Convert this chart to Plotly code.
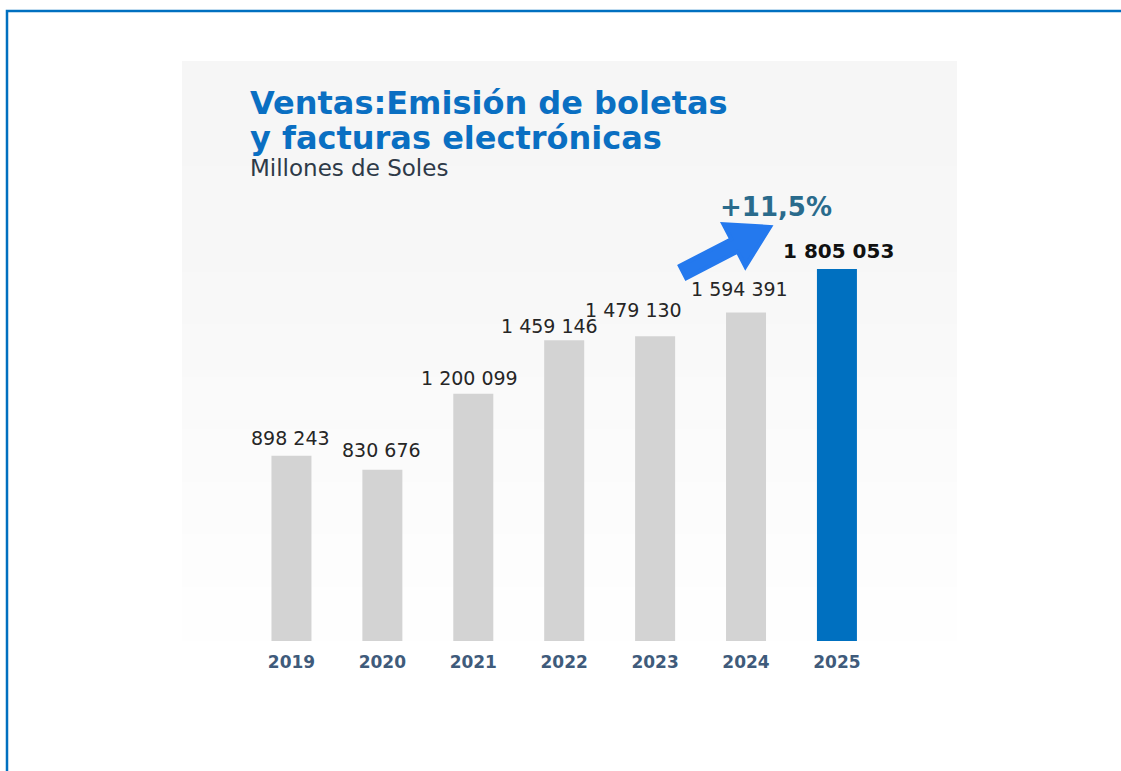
import plotly.graph_objects as go

# ---- data ----
years = ["2019", "2020", "2021", "2022", "2023", "2024", "2025"]
ventas = [898243, 830676, 1200099, 1459146, 1479130, 1594391, 1805053]
growth_label = "+11,5%"
title_line1 = "Ventas:Emisión de boletas"
title_line2 = "y facturas electrónicas"
subtitle = "Millones de Soles"

# label placement tweaks (pixels, relative to each bar top) - styling only
label_dx = [-1, -1, -4, -15, -22, -7, 2]
label_dy = [18, 20, 16, 14, 26, 23, 18]

W, H = 1121, 771


def px(x):
    return x / W


def py(y):
    return 1 - y / H


def fmt(v):
    return f"{v:,}".replace(",", " ")


bar_colors = ["#d3d3d3"] * (len(years) - 1) + ["#0070c0"]

fig = go.Figure()
fig.add_trace(go.Bar(
    x=years, y=ventas, width=0.44,
    marker=dict(color=bar_colors, line=dict(width=0)),
    hoverinfo="skip",
))

shapes = []
# background panel (faint gradient)
bands = ["#f6f6f6", "#f6f6f6", "#f7f7f7", "#f7f7f7", "#f8f8f8", "#f9f9f9",
         "#fafafa", "#fbfbfb", "#fcfcfc", "#fdfdfd", "#fefefe"]
y0, y1 = 61, 640
step = (y1 - y0) / len(bands)
for i, c in enumerate(bands):
    shapes.append(dict(type="rect", xref="paper", yref="paper", layer="below",
                       x0=px(182), x1=px(957), y0=py(y0 + step * (i + 1) + 0.5), y1=py(y0 + step * i),
                       fillcolor=c, line=dict(width=0)))

# frame lines (top and left)
shapes.append(dict(type="path", xref="paper", yref="paper",
                   path=f"M {px(7)},{py(771)} L {px(7)},{py(11)} L {px(1121)},{py(11)}",
                   line=dict(color="#0070c0", width=2.5)))

# growth arrow (decorative)
pts = [(679.8, 265.8), (731.2, 239.2), (723.4, 224.1), (770, 227),
       (745.4, 266.7), (737.6, 251.6), (686.2, 278.2)]
path = "M " + " L ".join(f"{px(x)},{py(y)}" for x, y in pts) + " Z"
shapes.append(dict(type="path", xref="paper", yref="paper", path=path,
                   fillcolor="#2479ee", line=dict(color="#2479ee", width=4)))

annotations = [
    dict(text=f"<b>{title_line1}</b>", x=px(248), y=py(103), xref="paper", yref="paper",
         xanchor="left", yanchor="middle", showarrow=False,
         font=dict(family="DejaVu Sans", size=32, color="#0a6fc2")),
    dict(text=f"<b>{title_line2}</b>", x=px(248), y=py(138), xref="paper", yref="paper",
         xanchor="left", yanchor="middle", showarrow=False,
         font=dict(family="DejaVu Sans", size=32, color="#0a6fc2")),
    dict(text=subtitle, x=px(248), y=py(168), xref="paper", yref="paper",
         xanchor="left", yanchor="middle", showarrow=False,
         font=dict(family="DejaVu Sans", size=23, color="#2e3a48")),
    dict(text=f"<b>{growth_label}</b>", x=px(776), y=py(207), xref="paper", yref="paper",
         xanchor="center", yanchor="middle", showarrow=False,
         font=dict(family="DejaVu Sans", size=26, color="#2a6b8c")),
]

# value labels above the bars (x = category index)
for i, v in enumerate(ventas):
    last = i == len(ventas) - 1
    annotations.append(dict(
        x=i, y=v, xref="x", yref="y",
        text=f"<b>{fmt(v)}</b>" if last else fmt(v),
        showarrow=False, xanchor="center", yanchor="middle",
        xshift=label_dx[i], yshift=label_dy[i],
        font=dict(family="DejaVu Sans", size=20 if last else 19,
                  color="#111111" if last else "#262626"),
    ))

fig.update_layout(
    width=W, height=H, autosize=False,
    margin=dict(l=0, r=0, t=0, b=0, autoexpand=False),
    paper_bgcolor="white", plot_bgcolor="rgba(0,0,0,0)",
    showlegend=False,
    shapes=shapes, annotations=annotations,
    xaxis=dict(type="category", domain=[px(246), px(882.4)], range=[-0.5, 6.5],
               showgrid=False, zeroline=False, showline=False, automargin=False,
               ticks="outside", ticklen=6, tickcolor="rgba(0,0,0,0)",
               tickfont=dict(family="DejaVu Sans", size=17, color="#3f5b7b", weight="bold")),
    yaxis=dict(domain=[py(641), py(228.8)], range=[0, 2000000], visible=False, automargin=False),
)

fig.write_html("out.html", config={"displayModeBar": False},
               post_script="document.body.style.margin='0';document.body.style.overflow='hidden';")
